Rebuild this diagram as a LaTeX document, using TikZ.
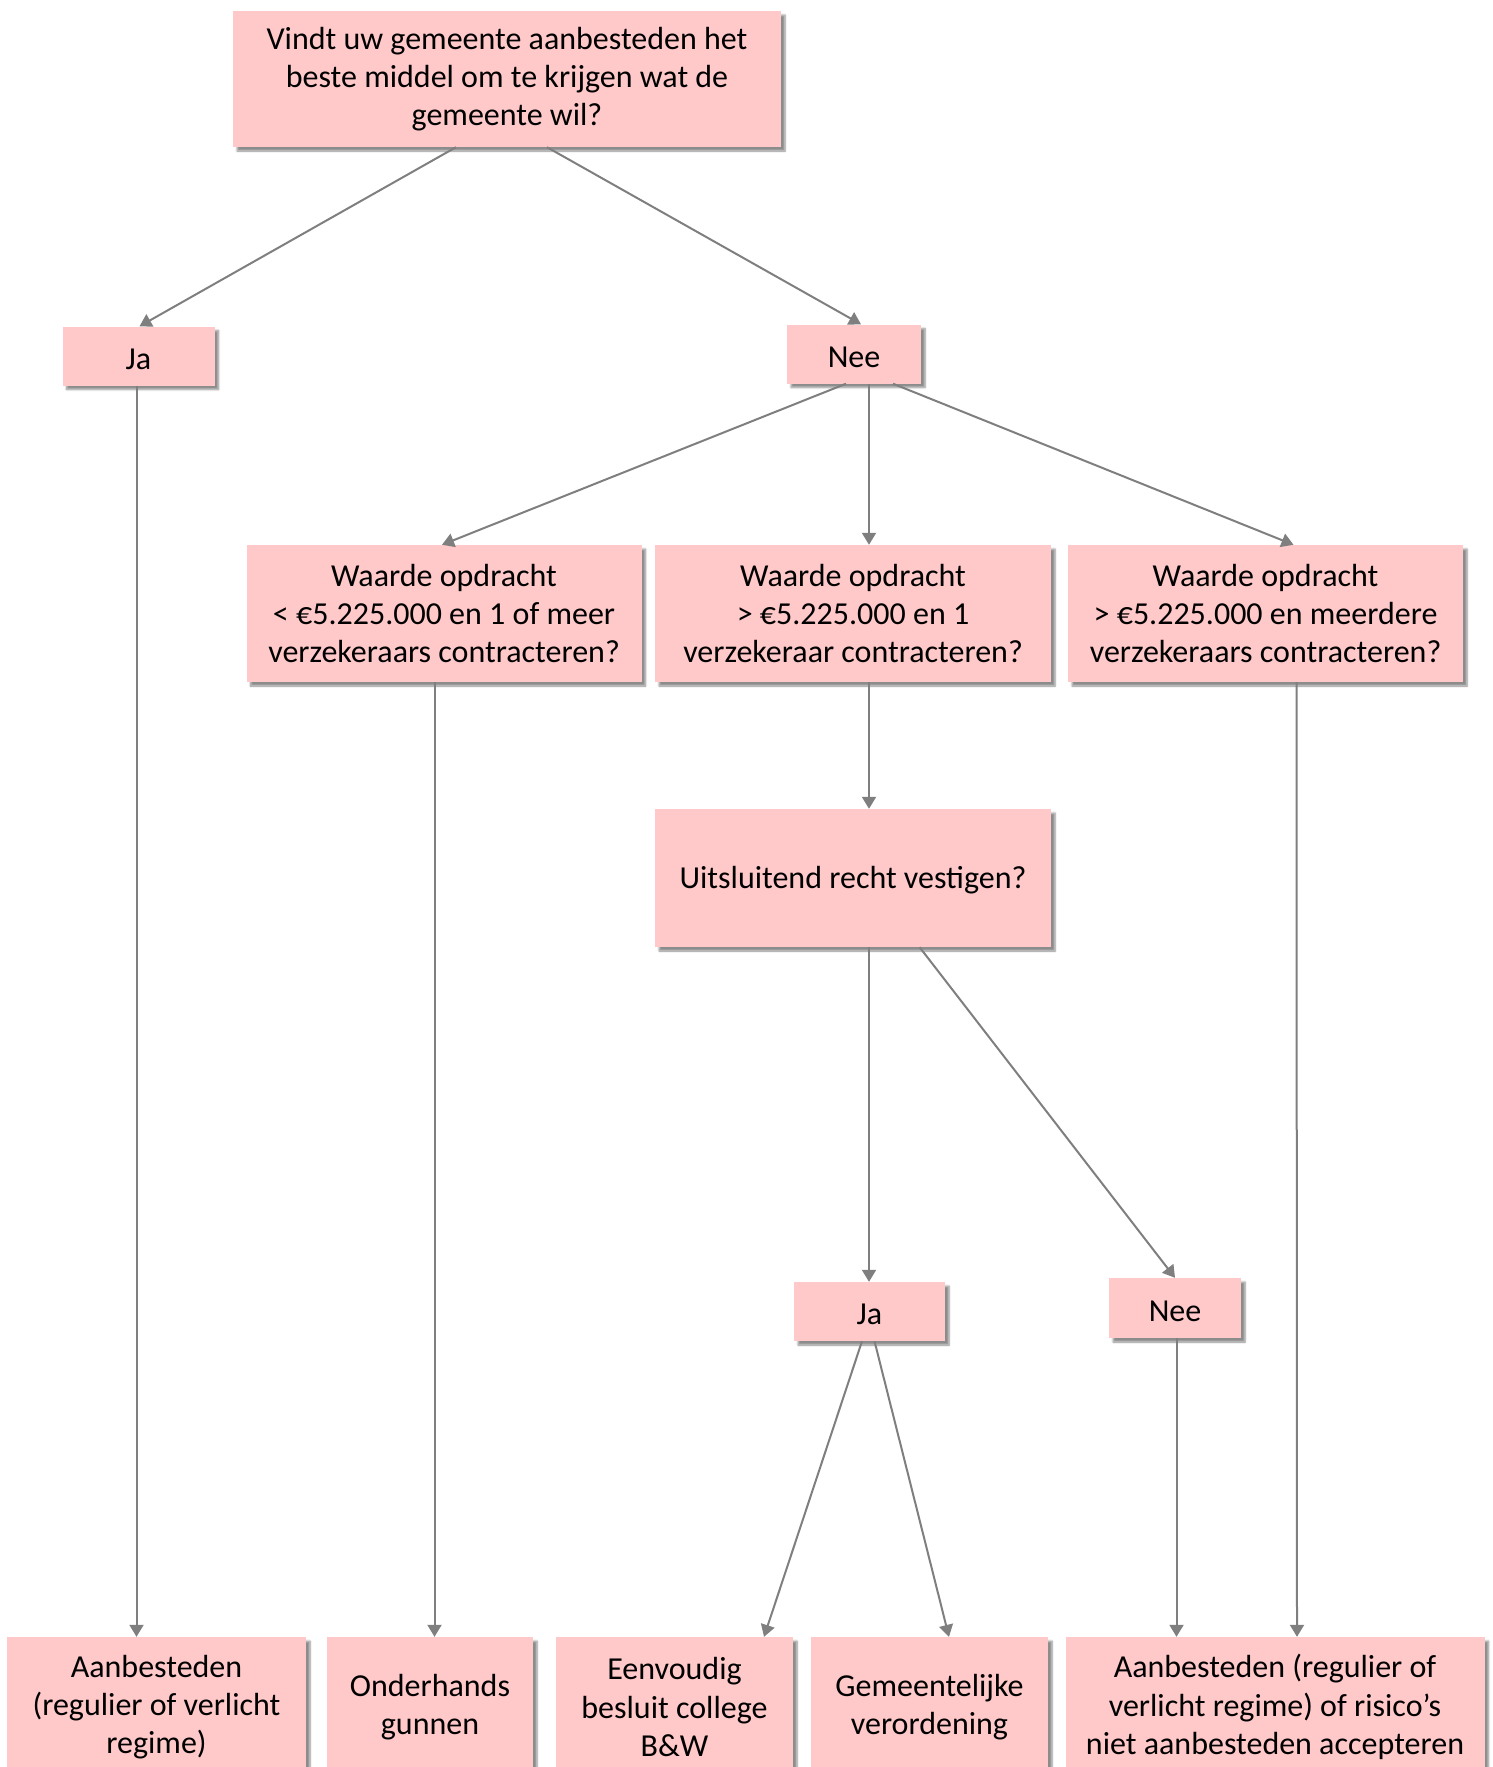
\documentclass[tikz,border=0pt]{standalone}
\usepackage{fontspec}
\setmainfont{Carlito}
\usetikzlibrary{arrows.meta,calc,shadows.blur}

\definecolor{boxpink}{HTML}{FFC9C9}
\definecolor{linegray}{HTML}{7F7F7F}

\tikzset{
    box/.style={fill=boxpink, align=center, inner sep=0pt,
        font=\fontsize{32}{38.3}\selectfont,
        execute at begin node={\rule{0pt}{27pt}},
        blur shadow={shadow xshift=4pt, shadow yshift=-4pt,
            shadow blur steps=6, shadow opacity=45}},
    arrow/.style={draw=linegray, line width=2pt,
        -{Triangle[width=14pt,length=12pt]}},
}

\begin{document}
\begin{tikzpicture}[x=1pt, y=-1pt]
    \useasboundingbox (0,0) rectangle (1492,1767);

    % Question
    \node[box, minimum width=548pt, minimum height=136pt] (top) at (507,79)
        {Vindt uw gemeente aanbesteden het\\beste middel om te krijgen wat de\\gemeente wil?};

    % Answers
    \node[box, minimum width=152pt, minimum height=59pt] (ja1) at (138.5,356) {Ja};
    \node[box, minimum width=134pt, minimum height=59pt] (nee1) at (854,354) {Nee};

    % Value of the contract
    \node[box, minimum width=395pt, minimum height=137pt] (w1) at (444,613.5)
        {Waarde opdracht\\< €5.225.000 en 1 of meer\\verzekeraars contracteren?};
    \node[box, minimum width=396pt, minimum height=137pt] (w2) at (853,613.5)
        {Waarde opdracht\\> €5.225.000 en 1\\verzekeraar contracteren?};
    \node[box, minimum width=395pt, minimum height=137pt] (w3) at (1265.5,613.5)
        {Waarde opdracht\\> €5.225.000 en meerdere\\verzekeraars contracteren?};

    \node[box, minimum width=396pt, minimum height=138pt] (uit) at (853,878)
        {Uitsluitend recht vestigen?};

    \node[box, minimum width=151pt, minimum height=59pt] (ja2) at (869.5,1311.5) {Ja};
    \node[box, minimum width=132pt, minimum height=60pt] (nee2) at (1175,1308) {Nee};

    % Outcomes
    \node[box, minimum width=299pt, minimum height=140pt] (b1) at (156.5,1707)
        {Aanbesteden\\(regulier of verlicht\\regime)};
    \node[box, minimum width=206pt, minimum height=140pt] (b2) at (430,1707)
        {Onderhands\\gunnen};
    \node[box, minimum width=237pt, minimum height=140pt] (b3) at (674.5,1707)
        {Eenvoudig\\besluit college\\B\&W};
    \node[box, minimum width=237pt, minimum height=140pt] (b4) at (929.5,1707)
        {Gemeentelijke\\verordening};
    \node[box, minimum width=419pt, minimum height=140pt] (b5) at (1275,1707)
        {Aanbesteden (regulier of\\verlicht regime) of risico’s\\niet aanbesteden accepteren};

    % Arrows
    \foreach \from/\dx/\to/\ex in {top/-51/ja1/1, top/40/nee1/7, ja1/-2/b1/-20,
        nee1/-8/w1/-2, nee1/15/w2/16, nee1/39/w3/28, w1/-9.5/b2/4.5,
        w2/16/uit/16, w3/31/b5/22, uit/16/ja2/-0.5, uit/66.6/nee2/0,
        ja2/-7.5/b3/89.5, ja2/5/b4/19.5, nee2/1.5/b5/-98.5}
        \draw[arrow] ($(\from.south)+(\dx,0)$) -- ($(\to.north)+(\ex,0)$);
\end{tikzpicture}
\end{document}
